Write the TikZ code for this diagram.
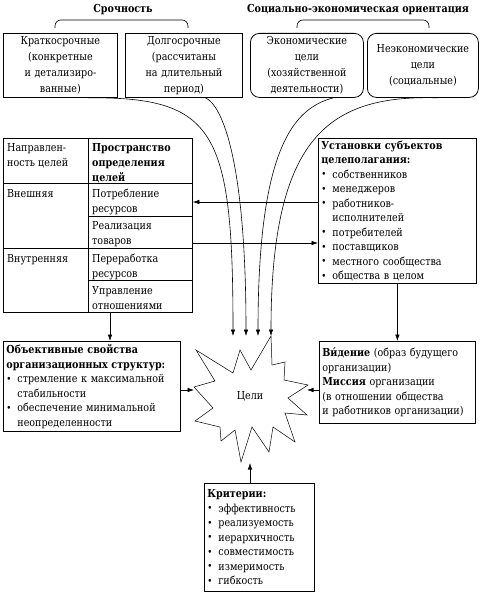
\documentclass[tikz,border=0pt]{standalone}
\usepackage{fontspec}
\setmainfont{DejaVu Serif}[FakeStretch=0.87]
\usepackage{graphicx}
\usetikzlibrary{arrows.meta}
\newcommand\fs{\fontsize{11}{14.5}\selectfont}
\newcommand\fst{\fontsize{11}{16}\selectfont}
\newcommand\bl{\makebox[11pt][l]{\raisebox{0.4pt}{\scalebox{0.9}{\textbullet}}}}
\newcommand\blind{\hspace*{11pt}}
\begin{document}
\begin{tikzpicture}[x=1pt,y=-1pt,
  every node/.style={font=\fs},
  box/.style={draw, line width=0.8pt, anchor=north west, inner xsep=3pt, inner ysep=2pt},
  topbox/.style={box, font=\fst, align=center, minimum height=64pt},
  cell/.style={anchor=north west, inner sep=0pt, align=left, font=\fontsize{11}{15}\selectfont},
  head/.style={font=\fs\bfseries},
  arr/.style={-{Latex[length=6.5pt,width=4.5pt]}, line width=0.6pt},
  brace/.style={rounded corners=6pt, line width=0.6pt}
]
\useasboundingbox (0,0) rectangle (479,594);

% headers and braces
\node[head] (hsr) at (123,10) {Срочность};
\node[head] (hso) at (358,10) {Социально-экономическая ориентация};
\draw[brace] (55,28) -- (55,20) -- (188,20) -- (188,28);
\draw[brace] (297,28) -- (297,20) -- (429,20) -- (429,28);

% top boxes
\node[topbox, minimum width=114pt, text width=108pt] (b1) at (3,33) {Краткосрочные\\(конкретные\\и детализиро-\\ванные)};
\node[topbox, minimum width=117pt, text width=111pt] (b2) at (125,33) {Долгосрочные\\(рассчитаны\\на длительный\\период)};
\node[topbox, rounded corners=9pt, minimum width=113pt, text width=107pt] (b3) at (250,33) {Экономические\\цели\\(хозяйственной\\деятельности)};
\node[topbox, rounded corners=9pt, minimum width=111pt, text width=105pt] (b4) at (367,33) {Неэкономические\\цели\\(социальные)};

% table
\node[draw, line width=0.8pt, anchor=north west, minimum width=189pt, minimum height=174pt, inner sep=0pt] (tbl) at (3,138) {};
\draw[line width=0.6pt] (88,138) -- (88,312);
\draw[line width=0.6pt] (3,183) -- (192,183);
\draw[line width=0.6pt] (3,248) -- (192,248);
\draw[line width=0.6pt] (88,216) -- (192,216);
\draw[line width=0.6pt] (88,280) -- (192,280);
\node[cell] (h1) at (7,143) {Направлен-\\ность целей};
\node[cell, font=\fontsize{11}{15}\selectfont\bfseries] (h2) at (92,143) {Пространство\\определения\\целей};
\node[cell] (e1) at (7,189) {Внешняя};
\node[cell] (i1) at (7,254) {Внутренняя};
\node[cell] (r1) at (92,189) {Потребление\\ресурсов};
\node[cell] (r2) at (92,221) {Реализация\\товаров};
\node[cell] (r3) at (92,254) {Переработка\\ресурсов};
\node[cell] (r4) at (92,286) {Управление\\отношениями};

% right box
\node[box, align=left, minimum width=158pt, minimum height=145pt, text width=152pt] (ust) at (318,138)
 {\textbf{Установки субъектов}\\\textbf{целеполагания:}\\\bl собственников\\\bl менеджеров\\\bl работников-\\\blind исполнителей\\\bl потребителей\\\bl поставщиков\\\bl местного сообщества\\\bl общества в целом};

% left lower box
\node[box, align=left, minimum width=177pt, minimum height=90pt, text width=171pt] (obj) at (3,341)
 {\textbf{Объективные свойства}\\\textbf{организационных структур:}\\\bl стремление к максимальной\\\blind стабильности\\\bl обеспечение минимальной\\\blind неопределенности};

% right lower box
\node[box, align=left, minimum width=156pt, minimum height=82pt, text width=150pt] (vis) at (319,341)
 {\textbf{Ви́дение} (образ будущего\\организации)\\\textbf{Миссия} организации\\(в отношении общества\\и работников организации)};

% bottom box
\node[box, align=left, minimum width=110pt, minimum height=108pt, text width=104pt] (krit) at (204,483)
 {\textbf{Критерии:}\\\bl эффективность\\\bl реализуемость\\\bl иерархичность\\\bl совместимость\\\bl измеримость\\\bl гибкость};

% star
\draw[line width=0.5pt] (271,336) -- (272,365) -- (285,362) -- (284,380) -- (308,385) -- (288,398)
  -- (307,415) -- (285,413) -- (295,442) -- (273,427) -- (269,452) -- (252,427) -- (241,462)
  -- (235,430) -- (221,441) -- (220,427) -- (195,421) -- (213,408) -- (194,387) -- (215,381)
  -- (196,350) -- (233,373) -- (240,350) -- (251,370) -- cycle;
\node (goal) at (250,396) {Цели};
\coordinate (sT1) at (233,336);
\coordinate (sT2) at (246,336);
\coordinate (sT3) at (258,336);
\coordinate (sT4) at (271,336);
\coordinate (sL) at (194,390);
\coordinate (sR) at (307,390);
\coordinate (sB) at (250,463);
\coordinate (cA) at (0,202);
\coordinate (cB) at (0,243);
\coordinate (tx) at (110,0);

% curved arrows
\draw[arr] ([xshift=28pt]b1.south) .. controls (215,97) and (233,130) .. (sT1);
\draw[arr] ([xshift=21.5pt]b2.south) .. controls (222,105) and (246,160) .. (sT2);
\draw[arr] ([xshift=26.5pt]b3.south) .. controls (295,108) and (258,145) .. (sT3);
\draw[arr] ([xshift=14.5pt]b4.south) .. controls (330,95) and (271,135) .. (sT4);

% straight arrows
\draw[arr] (ust.west |- cA) -- (tbl.east |- cA);
\draw[arr] (tbl.east |- cB) -- (ust.west |- cB);
\draw[arr] (tbl.south -| tx) -- (obj.north -| tx);
\draw[arr] (ust.south) -- (vis.north);
\draw[arr] (obj.east |- sL) -- (sL);
\draw[arr] (vis.west |- sR) -- (sR);
\draw[arr] (krit.north -| sB) -- (sB);
\end{tikzpicture}
\end{document}
